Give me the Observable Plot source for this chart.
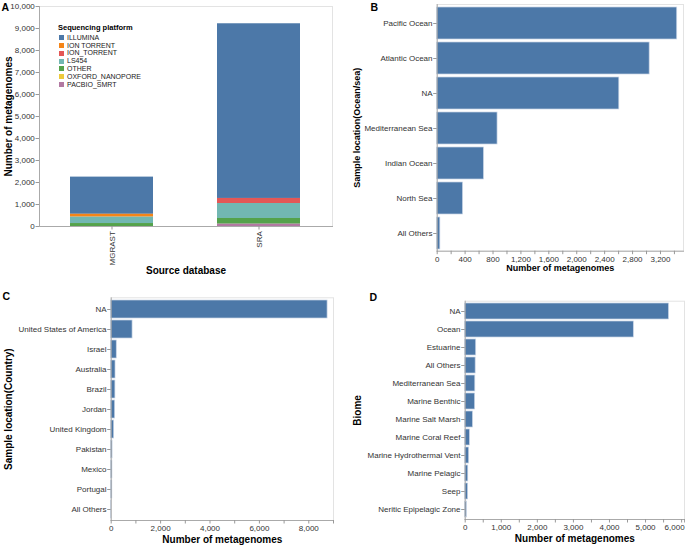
<!DOCTYPE html>
<html><head><meta charset="utf-8">
<script src="https://cdn.jsdelivr.net/npm/d3@7"></script>
<script src="https://cdn.jsdelivr.net/npm/@observablehq/plot@0.6"></script>
<style>
html,body{margin:0;padding:0;background:#fff;overflow:hidden}
#root{position:relative;width:685px;height:546px;font-family:"Liberation Sans",Arial,sans-serif}
.panel{position:absolute}
.panel svg{display:block;overflow:visible}
#legend{position:absolute;left:0;top:0;color:#222}
#legend .ttl{position:absolute;left:58px;top:24.3px;font-size:7.5px;line-height:7.5px;font-weight:bold;white-space:nowrap;color:#000}
#legend .row{position:absolute;left:59px;height:7.8px;line-height:7.8px;font-size:7px;white-space:nowrap}
#legend .sw{position:absolute;left:0;top:1.4px;width:5px;height:5px}
#legend .lb{position:absolute;left:8px;top:0}
</style></head><body><div id="root"></div>
<script>
// ---------- data ----------
const sources = ["MGRAST", "SRA"];
const platforms = ["ILLUMINA", "ION TORRENT", "ION_TORRENT", "LS454", "OTHER", "OXFORD_NANOPORE", "PACBIO_SMRT"];
const platformColors = ["#4c78a8", "#f58518", "#e45756", "#72b7b2", "#54a24b", "#eeca3b", "#b279a2"];
const mgrastCounts = [1690, 130, 0, 290, 135, 0, 0];
const sraCounts = [7940, 0, 230, 680, 260, 0, 105];

const oceans = ["Pacific Ocean", "Atlantic Ocean", "NA", "Mediterranean Sea", "Indian Ocean", "North Sea", "All Others"];
const oceanCounts = [3440, 3045, 2610, 865, 670, 370, 45];

const countries = ["NA", "United States of America", "Israel", "Australia", "Brazil", "Jordan", "United Kingdom", "Pakistan", "Mexico", "Portugal", "All Others"];
const countryCounts = [8760, 865, 225, 175, 170, 160, 120, 55, 50, 45, 10];

const biomes = ["NA", "Ocean", "Estuarine", "All Others", "Mediterranean Sea", "Marine Benthic", "Marine Salt Marsh", "Marine Coral Reef", "Marine Hydrothermal Vent", "Marine Pelagic", "Seep", "Neritic Epipelagic Zone"];
const biomeCounts = [5650, 4675, 305, 290, 280, 275, 215, 130, 110, 85, 80, 45];

const yTicksA = d3.range(0, 10001, 1000);
const xTicksB = d3.range(0, 3401, 200);
const xTicksC = d3.range(0, 9001, 1000);
const xTicksD = d3.range(0, 6001, 500);

// ---------- styling ----------
const FONT = '"Liberation Sans", Arial, sans-serif';
const BAR = "#4c78a8";
const FRAME = "#e3e3e3";
const DOMAIN = "#aaa";
const TICK = "#999";
const LABEL = "#333";
const fmt = d3.format(",");
const baseStyle = {fontFamily: FONT, background: "transparent", overflow: "visible"};
const tickOpts = {tickSize: 3.5, tickPadding: 1.2, fontSize: 8, stroke: TICK, fill: LABEL, label: null};
const titleOpts = {fontWeight: "bold", fontSize: 10, fill: "#000", text: d => d, textAnchor: "middle", lineAnchor: "middle"};
const letterOpts = {fontWeight: "bold", fontSize: 10.5, fill: "#000", text: d => d, frameAnchor: "top-left", textAnchor: "start", lineAnchor: "top"};

const root = document.getElementById("root");
function place(el, left, top) {
  const d = document.createElement("div");
  d.className = "panel";
  d.style.left = left + "px";
  d.style.top = top + "px";
  d.appendChild(el);
  root.appendChild(d);
}

// ---------- Panel A ----------
const rowsA = sources.flatMap((s, i) => platforms.map((p, j) => ({source: s, platform: p, count: [mgrastCounts, sraCounts][i][j]})));
const plotA = Plot.plot({
  width: 340, height: 280,
  marginLeft: 39, marginTop: 6, marginRight: 8, marginBottom: 54,
  style: baseStyle,
  x: {domain: sources, paddingInner: 0.433, paddingOuter: 0.21, label: null},
  y: {domain: [0, 10000], label: null},
  color: {domain: platforms, range: platformColors},
  marks: [
    Plot.frame({stroke: FRAME}),
    Plot.barY(rowsA, Plot.stackY({order: "z", reverse: true}, {x: "source", y: "count", fill: "platform", z: "platform"})),
    Plot.frame({anchor: "left", stroke: DOMAIN}),
    Plot.frame({anchor: "bottom", stroke: DOMAIN}),
    Plot.axisY({...tickOpts, ticks: yTicksA, tickFormat: fmt}),
    Plot.axisX({...tickOpts, tickRotate: -90}),
    Plot.text(["Number of metagenomes"], {...titleOpts, frameAnchor: "left", rotate: -90, dx: -31}),
    Plot.text(["Source database"], {...titleOpts, frameAnchor: "bottom", dy: 44}),
    Plot.text(["A"], {...letterOpts, dx: -38, dy: -3})
  ]
});
place(plotA, 0, 0);

// legend for A
const leg = document.createElement("div");
leg.id = "legend";
const lt = document.createElement("div");
lt.className = "ttl"; lt.textContent = "Sequencing platform";
leg.appendChild(lt);
platforms.forEach((p, i) => {
  const r = document.createElement("div");
  r.className = "row";
  r.style.top = (37.7 - 3.9 + i * 7.8) + "px";
  const sw = document.createElement("div");
  sw.className = "sw"; sw.style.background = platformColors[i];
  const lb = document.createElement("div");
  lb.className = "lb"; lb.textContent = p;
  r.appendChild(sw); r.appendChild(lb);
  leg.appendChild(r);
});
root.appendChild(leg);

// ---------- Panel B ----------
const plotB = Plot.plot({
  width: 345, height: 280,
  marginLeft: 96.7, marginTop: 4, marginRight: 2, marginBottom: 29.3,
  style: baseStyle,
  x: {domain: [0, 3530], label: null},
  y: {domain: oceans, paddingInner: 0.1, paddingOuter: 0.05, label: null},
  marks: [
    Plot.frame({stroke: FRAME}),
    Plot.barX(oceans, {y: d => d, x: (d, i) => oceanCounts[i], fill: BAR, stroke: "#c8d5e6", strokeWidth: 0.7}),
    Plot.frame({anchor: "left", stroke: DOMAIN}),
    Plot.frame({anchor: "bottom", stroke: DOMAIN}),
    Plot.axisY({...tickOpts}),
    Plot.axisX({...tickOpts, ticks: xTicksB, tickFormat: d => d % 400 === 0 ? fmt(d) : ""}),
    Plot.text(["Sample location(Ocean/sea)"], {...titleOpts, fontSize: 9, frameAnchor: "left", rotate: -90, dx: -79.7}),
    Plot.text(["Number of metagenomes"], {...titleOpts, fontSize: 9, frameAnchor: "bottom", dy: 17.3}),
    Plot.text(["B"], {...letterOpts, dx: -66.7, dy: -1})
  ]
});
place(plotB, 340, 0);

// ---------- Panel C ----------
const plotC = Plot.plot({
  width: 340, height: 266,
  marginLeft: 110.7, marginTop: 17.3, marginRight: 7, marginBottom: 26,
  style: baseStyle,
  x: {domain: [0, 9000], label: null},
  y: {domain: countries, paddingInner: 0.1, paddingOuter: 0.05, label: null},
  marks: [
    Plot.frame({stroke: FRAME}),
    Plot.barX(countries, {y: d => d, x: (d, i) => countryCounts[i], fill: BAR, stroke: "#c8d5e6", strokeWidth: 0.7}),
    Plot.frame({anchor: "left", stroke: DOMAIN}),
    Plot.frame({anchor: "bottom", stroke: DOMAIN}),
    Plot.axisY({...tickOpts}),
    Plot.axisX({...tickOpts, ticks: xTicksC, tickFormat: d => d % 2000 === 0 ? fmt(d) : ""}),
    Plot.text(["Sample location(Country)"], {...titleOpts, frameAnchor: "left", rotate: -90, dx: -102.7}),
    Plot.text(["Number of metagenomes"], {...titleOpts, frameAnchor: "bottom", dy: 19}),
    Plot.text(["C"], {...letterOpts, dx: -108.7, dy: -5.3})
  ]
});
place(plotC, 0, 280);

// ---------- Panel D ----------
const plotD = Plot.plot({
  width: 345, height: 266,
  marginLeft: 124.7, marginTop: 20.7, marginRight: 1, marginBottom: 27,
  style: baseStyle,
  x: {domain: [0, 6080], label: null},
  y: {domain: biomes, paddingInner: 0.1, paddingOuter: 0.05, label: null},
  marks: [
    Plot.frame({stroke: FRAME}),
    Plot.barX(biomes, {y: d => d, x: (d, i) => biomeCounts[i], fill: BAR, stroke: "#c8d5e6", strokeWidth: 0.7}),
    Plot.frame({anchor: "left", stroke: DOMAIN}),
    Plot.frame({anchor: "bottom", stroke: DOMAIN}),
    Plot.axisY({...tickOpts}),
    Plot.axisX({...tickOpts, ticks: xTicksD, tickFormat: d => (d % 1000 === 0 && d < 6000) ? fmt(d) : ""}),
    Plot.axisX({...tickOpts, ticks: [6000], tickFormat: fmt, textAnchor: "end", dx: 3}),
    Plot.text(["Biome"], {...titleOpts, frameAnchor: "left", rotate: -90, dx: -107.7}),
    Plot.text(["Number of metagenomes"], {...titleOpts, frameAnchor: "bottom", dy: 19}),
    Plot.text(["D"], {...letterOpts, dx: -95.7, dy: -8})
  ]
});
place(plotD, 340, 280);
</script>
</body></html>
